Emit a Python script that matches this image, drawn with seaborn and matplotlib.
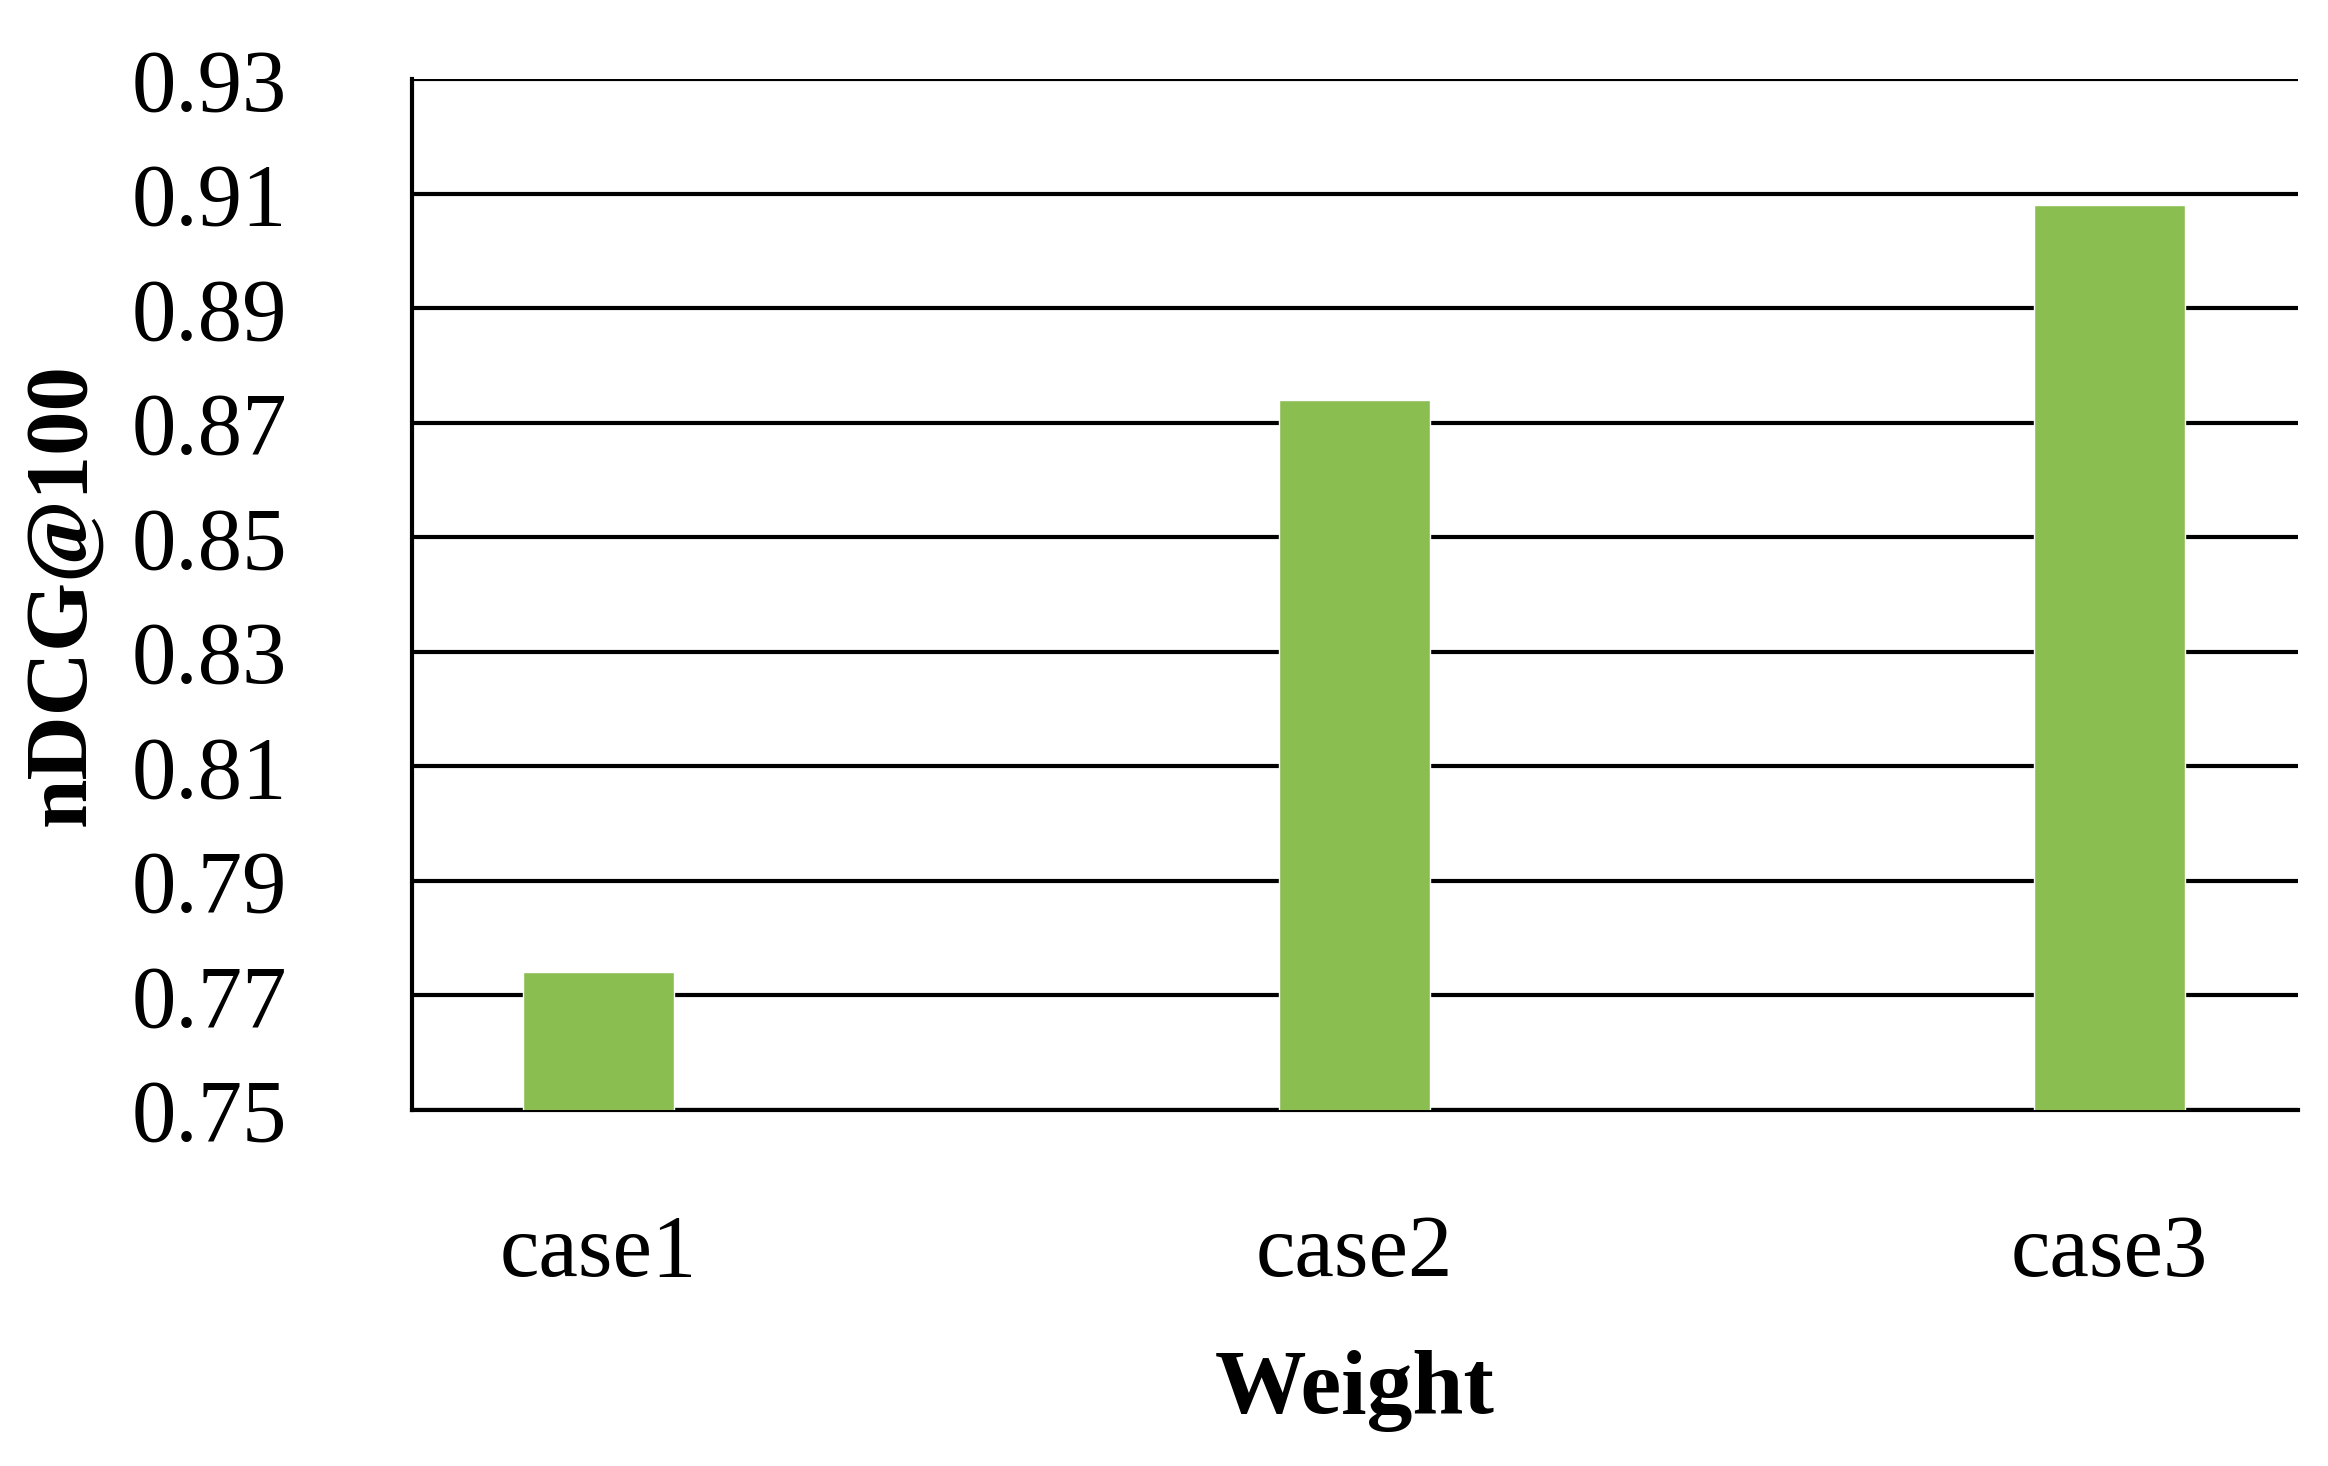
import matplotlib
matplotlib.use("Agg")
import matplotlib.pyplot as plt
import seaborn as sns
import pandas as pd

categories = ["case1", "case2", "case3"]
values = [0.774, 0.874, 0.908]
yticks = [0.75, 0.77, 0.79, 0.81, 0.83, 0.85, 0.87, 0.89, 0.91, 0.93]

sns.set_theme(style="white")
plt.rcParams['font.family'] = ['Liberation Serif', 'DejaVu Serif']
plt.rcParams['text.color'] = 'black'

df = pd.DataFrame({"Weight": categories, "nDCG": values})
fig = plt.figure(figsize=(23.28, 14.66), dpi=100)
ax = fig.add_axes([0.177, 0.243, 0.81, 0.703])
sns.barplot(data=df, x="Weight", y="nDCG", color="#8BBE50", width=0.2, saturation=1, ax=ax, zorder=3)
ax.set_xlim(-0.247, 2.249)
ax.set_ylim(0.75, 0.93)
ax.set_yticks(yticks)
ax.set_yticklabels([f"{t:.2f}" for t in yticks], fontsize=64, color="black")
ax.yaxis.grid(True, color="black", linewidth=3, zorder=0)
ax.set_axisbelow(True)
for s in ["right", "top"]:
    ax.spines[s].set_visible(False)
for s in ["bottom", "left"]:
    ax.spines[s].set_color("black")
    ax.spines[s].set_linewidth(3)
ax.tick_params(axis="both", length=0, colors="black")
ax.tick_params(axis="x", labelsize=64, pad=75)
ax.tick_params(axis="y", pad=90)
ax.set_xlabel("Weight", fontsize=66, fontweight="bold", labelpad=40, color="black")
ax.set_ylabel("nDCG@100", fontsize=64, fontweight="bold", labelpad=20, color="black")
fig.savefig("out.png", dpi=100)
